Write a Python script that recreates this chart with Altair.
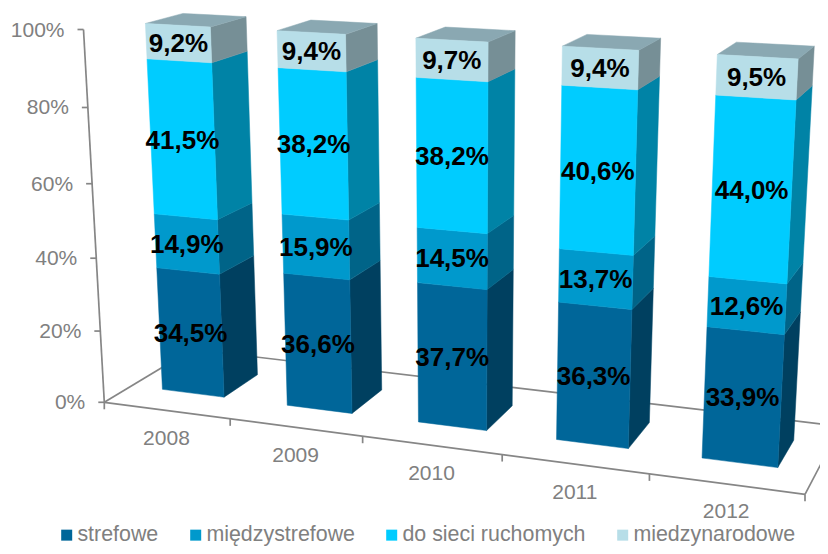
import altair as alt
import pandas as pd

years = ["2008", "2009", "2010", "2011", "2012"]
series = ["strefowe", "międzystrefowe", "do sieci ruchomych", "miedzynarodowe"]
strefowe = [34.5, 36.6, 37.7, 36.3, 33.9]
miedzystrefowe = [14.9, 15.9, 14.5, 13.7, 12.6]
ruchome = [41.5, 38.2, 38.2, 40.6, 44.0]
miedzynarodowe = [9.2, 9.4, 9.7, 9.4, 9.5]
labels = [
    ["34,5%", "36,6%", "37,7%", "36,3%", "33,9%"],
    ["14,9%", "15,9%", "14,5%", "13,7%", "12,6%"],
    ["41,5%", "38,2%", "38,2%", "40,6%", "44,0%"],
    ["9,2%", "9,4%", "9,7%", "9,4%", "9,5%"],
]
y_ticks = [0, 20, 40, 60, 80, 100]

front_cols = ["#006699", "#0099CC", "#00CCFF", "#B7DEE8"]
side_cols = ["#004060", "#006488", "#0083A6", "#768F96"]
top_col = "#8AA8B2"
grey = "#868686"
text_grey = "#808080"

# Camera of the 3D plot box (screen position of box corners, perspective terms)
O = (104.3, 402.3)
F = (805.0, 494.3)
B = (192.0, 349.4)
T = (83.5, 29.5)
P, Q, R = -0.124, 0.087, -0.055
HALF_W, D0, D1 = 0.05, 0.30, 0.71


def proj(u, d, z):
    w = 1 + P * u + Q * d + R * z
    out = []
    for i in (0, 1):
        a = F[i] * (1 + P) - O[i]
        b = B[i] * (1 + Q) - O[i]
        c = T[i] * (1 + R) - O[i]
        out.append((O[i] + a * u + b * d + c * z) / w)
    return out


def area_rows(poly, key, **extra):
    """A convex polygon as x / upper y / lower y rows for an area mark."""
    xs = sorted({round(p[0], 3) for p in poly})
    n = len(poly)
    rows = []
    for x in xs:
        ys = []
        for i in range(n):
            (x1, y1), (x2, y2) = poly[i], poly[(i + 1) % n]
            lo, hi = min(x1, x2), max(x1, x2)
            if lo - 0.002 <= x <= hi + 0.002:
                if abs(x2 - x1) < 1e-6:
                    ys += [y1, y2]
                else:
                    ys.append(y1 + (y2 - y1) * (x - x1) / (x2 - x1))
        rows.append(dict(x=x, y=min(ys), y2=max(ys), key=key, **extra))
    return rows


table = [strefowe, miedzystrefowe, ruchome, miedzynarodowe]
front_rows, other_rows, label_rows = [], [], []
for b, yr in enumerate(years):
    uc = (b + 0.5) / len(years)
    u0, u1 = uc - HALF_W, uc + HALF_W
    vals = [s[b] for s in table]
    tot = sum(vals)
    cum = 0.0
    for s, v in enumerate(vals):
        z0, z1 = cum / tot, (cum + v) / tot
        cum += v
        front = [proj(u0, D0, z0), proj(u1, D0, z0), proj(u1, D0, z1), proj(u0, D0, z1)]
        side = [proj(u1, D0, z0), proj(u1, D1, z0), proj(u1, D1, z1), proj(u1, D0, z1)]
        front_rows += area_rows(front, f"f{b}{s}", series=series[s], edge=series[s])
        other_rows += area_rows(side, f"s{b}{s}", col=side_cols[s])
        lx, ly = proj(uc, D0, (z0 + z1) / 2)
        label_rows.append(dict(x=lx, y=ly + 1, t=labels[s][b]))
    top = [proj(u0, D0, 1), proj(u1, D0, 1), proj(u1, D1, 1), proj(u0, D1, 1)]
    other_rows += area_rows(top, f"t{b}", col=top_col)

# axis frame
rules = []
def seg(a, b):
    rules.append(dict(x=a[0], y=a[1], x2=b[0], y2=b[1]))

seg(proj(0, 0, 0), proj(1, 0, 0))
seg(proj(0, 0, 0), proj(0, 1, 0))
seg(proj(0, 1, 0), proj(1, 1, 0))
seg(proj(1, 0, 0), proj(1, 1, 0))
seg(proj(0, 0, 0), proj(0, 0, 1))
ytick_rows = []
for v in y_ticks:
    px, py = proj(0, 0, v / 100)
    seg((px - 6, py), (px, py))
    ytick_rows.append(dict(x=px - 19, y=py + 1, t=f"{v}%"))
for i in range(len(years) + 1):
    px, py = proj(i / len(years), 0, 0)
    seg((px, py), (px, py + 7))
xlab_rows = []
for i, yr in enumerate(years):
    px, py = proj((i + 0.5) / len(years), 0, 0)
    xlab_rows.append(dict(x=px, y=py + 28.5, t=yr))

W, H = 812, 538
xs = alt.Scale(domain=[8, 8 + W], nice=False, zero=False)
ys = alt.Scale(domain=[8 + H, 8], nice=False, zero=False)
X = alt.X("x:Q", scale=xs, axis=None)
Y = alt.Y("y:Q", scale=ys, axis=None)

frame = alt.Chart(pd.DataFrame(rules)).mark_rule(color=grey, strokeWidth=1.7).encode(
    x=X, y=Y, x2="x2:Q", y2="y2:Q"
)
others = alt.Chart(pd.DataFrame(other_rows)).mark_area(strokeWidth=0.5).encode(
    x=X, y=Y, y2="y2:Q", detail="key:N",
    color=alt.Color("col:N", scale=None), stroke=alt.Stroke("col:N", scale=None),
)
fronts = alt.Chart(pd.DataFrame(front_rows)).mark_area(strokeWidth=0.5).encode(
    x=X, y=Y, y2="y2:Q", detail="key:N",
    fill=alt.Fill(
        "series:N", scale=alt.Scale(domain=series, range=front_cols), title=None,
        legend=alt.Legend(
            orient="none", legendX=48, legendY=516, direction="horizontal", columns=4,
            symbolType="square", symbolSize=121, symbolStrokeWidth=0,
            labelFont="Liberation Sans", labelFontSize=21.4, labelColor=text_grey,
            labelOffset=0, columnPadding=26, padding=0, labelLimit=400,
        ),
    ),
    stroke=alt.Stroke(
        "edge:N", scale=alt.Scale(domain=series[::-1], range=front_cols[::-1]), legend=None
    ),
)
val_text = alt.Chart(pd.DataFrame(label_rows)).mark_text(
    font="Liberation Sans", fontSize=26, fontWeight="bold", color="black"
).encode(x=X, y=Y, text="t:N")
y_text = alt.Chart(pd.DataFrame(ytick_rows)).mark_text(
    font="Liberation Sans", fontSize=21, color=text_grey, align="right"
).encode(x=X, y=Y, text="t:N")
x_text = alt.Chart(pd.DataFrame(xlab_rows)).mark_text(
    font="Liberation Sans", fontSize=21, color=text_grey
).encode(x=X, y=Y, text="t:N")

chart = (
    alt.layer(frame, others, fronts, y_text, x_text, val_text)
    .properties(width=W, height=H, padding=0, autosize=alt.AutoSizeParams(type="none"),
                background="white")
    .configure_view(stroke=None)
)
chart.save("out.html", embed_options={"renderer": "svg", "actions": False})
